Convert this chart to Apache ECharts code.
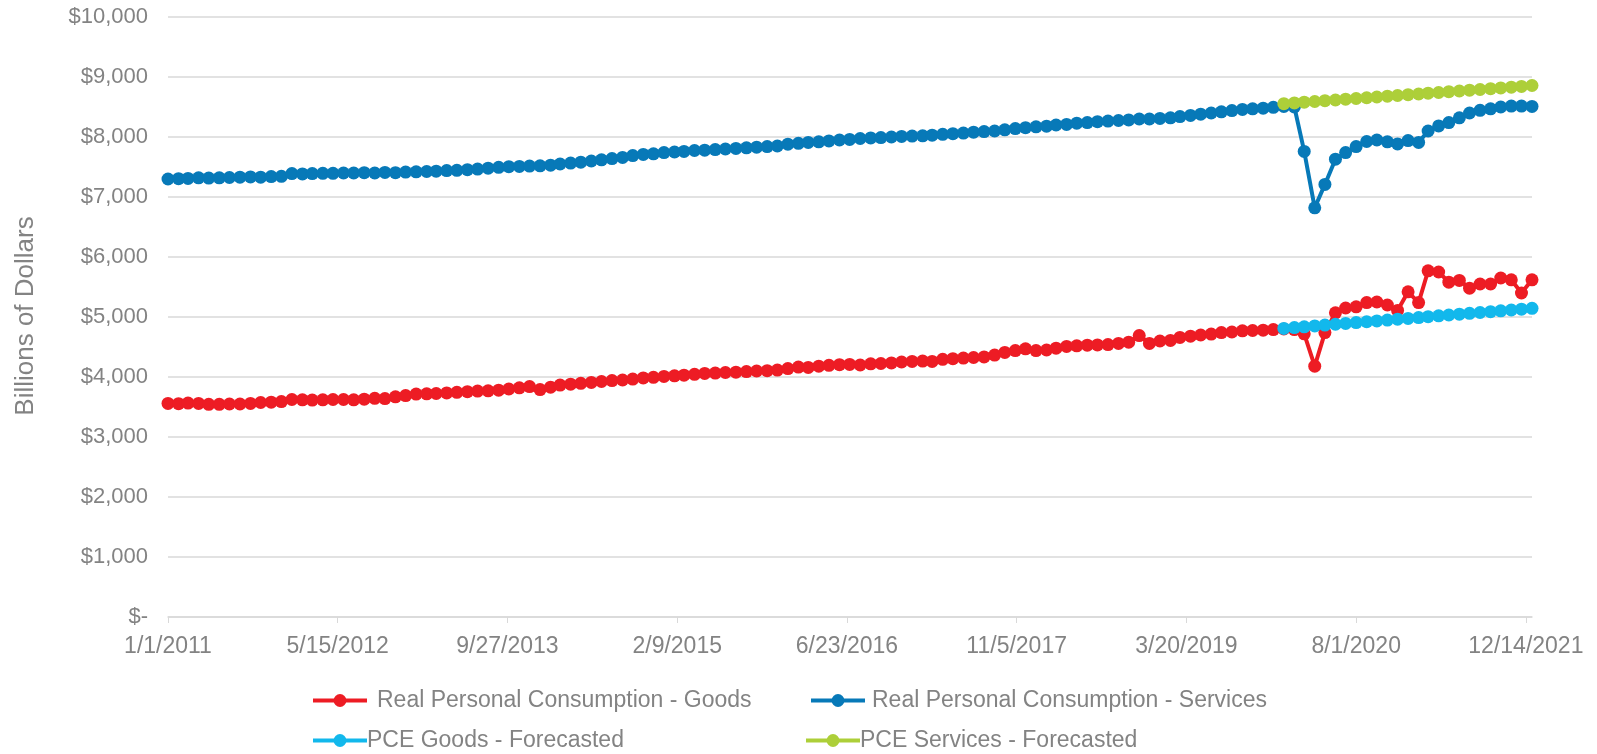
<!DOCTYPE html>
<html>
<head>
<meta charset="utf-8">
<script src="https://cdn.jsdelivr.net/npm/echarts@6/dist/echarts.min.js"></script>
<style>
  html, body { margin: 0; padding: 0; background: #fff; }
  #chart { width: 1597px; height: 754px; }
</style>
</head>
<body>
<div id="chart"></div>
<script>
// monthly, Jan 2011 .. Jan 2022 (billions of dollars)
const goods = [
  3560, 3555, 3565, 3560, 3545, 3545, 3550, 3550, 3560, 3575, 3580, 3590,
  3625, 3620, 3615, 3620, 3625, 3625, 3620, 3630, 3645, 3640, 3670, 3690,
  3715, 3720, 3725, 3735, 3745, 3755, 3765, 3770, 3780, 3800, 3820, 3840,
  3790, 3830, 3865, 3880, 3895, 3910, 3925, 3940, 3950, 3965, 3985, 3995,
  4010, 4020, 4030, 4045, 4060, 4065, 4075, 4080, 4090, 4100, 4105, 4115,
  4140, 4165, 4160, 4180, 4195, 4205, 4210, 4200, 4220, 4225, 4235, 4250,
  4260, 4265, 4260, 4295, 4305, 4315, 4325, 4335, 4365, 4410, 4440, 4470,
  4440, 4450, 4480, 4510, 4520, 4530, 4535, 4540, 4560, 4580, 4690, 4560,
  4600, 4610, 4660, 4680, 4700, 4715, 4740, 4750, 4770, 4775, 4780, 4790,
  4800, 4790, 4720, 4180, 4740, 5070, 5150, 5170, 5240, 5250, 5200, 5110,
  5420, 5240, 5770, 5750, 5580, 5610, 5480, 5550, 5550, 5650, 5620, 5400,
  5620
];
const services = [
  7300, 7305, 7310, 7320, 7315, 7320, 7325, 7330, 7335, 7330, 7340, 7345,
  7390, 7385, 7390, 7395, 7395, 7400, 7400, 7405, 7400, 7410, 7405, 7415,
  7420, 7425, 7430, 7440, 7445, 7455, 7465, 7480, 7495, 7505, 7510, 7515,
  7520, 7530, 7550, 7565, 7580, 7600, 7620, 7640, 7660, 7690, 7710, 7720,
  7740, 7750, 7760, 7775, 7780, 7790, 7800, 7810, 7820, 7830, 7840, 7850,
  7880, 7895, 7910, 7920, 7935, 7950, 7960, 7975, 7985, 7990, 8000, 8010,
  8015, 8020, 8030, 8045, 8055, 8065, 8080, 8090, 8100, 8120, 8140, 8155,
  8170, 8180, 8200, 8210, 8230, 8240, 8255, 8265, 8275, 8285, 8300, 8300,
  8310, 8320, 8340, 8360, 8380, 8400, 8420, 8440, 8460, 8470, 8480, 8495,
  8510, 8500, 7760, 6820, 7210, 7630, 7740, 7840, 7925, 7950, 7920, 7885,
  7940, 7910, 8100, 8185, 8240, 8320, 8400, 8445, 8470, 8500, 8515, 8515,
  8510
];
// forecasts, Jan 2020 .. Jan 2022
const goodsForecast = [
  4810, 4823, 4837, 4851, 4865, 4879, 4893, 4907, 4921, 4935, 4949, 4963,
  4977, 4991, 5005, 5019, 5033, 5047, 5061, 5075, 5089, 5103, 5117, 5131,
  5145
];
const servicesForecast = [
  8555, 8568, 8580, 8592, 8605, 8617, 8630, 8642, 8654, 8667, 8680, 8692,
  8705, 8717, 8730, 8742, 8755, 8767, 8780, 8792, 8805, 8818, 8830, 8843,
  8858
];
const forecastStart = 108; // month index of Jan 2020
// x ticks: days since 1/1/2011
const xTicks = [0, 500, 1000, 1500, 2000, 2500, 3000, 3500, 4000];

const BASE = Date.UTC(2011, 0, 1);
const DAY = 86400000;
const dayOf = (m) => (Date.UTC(2011, m, 1) - BASE) / DAY;
const toPoints = (arr, offset) => arr.map((v, i) => [dayOf(i + offset), v]);

const grey = '#838383';
const font = 'Liberation Sans, Arial, sans-serif';

const mkSeries = (name, color, data) => ({
  name: name,
  type: 'line',
  data: data,
  symbol: 'circle',
  symbolSize: 13,
  showSymbol: true,
  lineStyle: { color: color, width: 4 },
  itemStyle: { color: color },
  emphasis: { disabled: true }
});

const mkLegend = (name, left, top, pad) => ({
  data: [name],
  left: left,
  top: top,
  padding: 0,
  itemWidth: 54,
  itemHeight: 16,
  lineStyle: { width: 4 },
  selectedMode: false,
  textStyle: { color: grey, fontSize: 23, fontFamily: font, padding: [0, 0, 0, pad] }
});

const chart = echarts.init(document.getElementById('chart'));
chart.setOption({
  animation: false,
  backgroundColor: '#fff',
  grid: { left: 168, right: 65, top: 17, bottom: 137 },
  xAxis: {
    type: 'value',
    min: 0,
    max: dayOf(goods.length - 1),
    interval: 500,
    axisLine: { lineStyle: { color: '#d9d9d9', width: 1.5 } },
    axisTick: { show: true, length: 6, customValues: xTicks, lineStyle: { color: '#d9d9d9' } },
    splitLine: { show: false },
    axisLabel: {
      customValues: xTicks,
      color: grey,
      fontSize: 23,
      fontFamily: font,
      margin: 18,
      formatter: (d) => {
        const t = new Date(BASE + d * DAY);
        return (t.getUTCMonth() + 1) + '/' + t.getUTCDate() + '/' + t.getUTCFullYear();
      }
    }
  },
  yAxis: {
    type: 'value',
    min: 0,
    max: 10000,
    interval: 1000,
    axisLine: { show: false },
    axisTick: { show: false },
    splitLine: { lineStyle: { color: '#d9d9d9', width: 1.5 } },
    axisLabel: {
      color: grey,
      fontSize: 22,
      fontFamily: font,
      margin: 20,
      formatter: (v) => v === 0 ? '$-' : '$' + v.toLocaleString('en-US')
    }
  },
  graphic: [{
    type: 'text',
    x: 26,
    y: 316,
    rotation: Math.PI / 2,
    style: {
      text: 'Billions of Dollars',
      fill: grey,
      font: '26px ' + font,
      align: 'center',
      verticalAlign: 'middle'
    }
  }],
  legend: [
    mkLegend('Real Personal Consumption - Goods', 311, 689, 5),
    mkLegend('Real Personal Consumption - Services', 809, 689, 2),
    mkLegend('PCE Goods - Forecasted', 311, 729, -5),
    mkLegend('PCE Services - Forecasted', 804, 729, -5)
  ],
  series: [
    mkSeries('Real Personal Consumption - Goods', '#ED1C24', toPoints(goods, 0)),
    mkSeries('Real Personal Consumption - Services', '#0779B8', toPoints(services, 0)),
    mkSeries('PCE Goods - Forecasted', '#12B8EC', toPoints(goodsForecast, forecastStart)),
    mkSeries('PCE Services - Forecasted', '#ADCF39', toPoints(servicesForecast, forecastStart))
  ]
});
</script>
</body>
</html>
